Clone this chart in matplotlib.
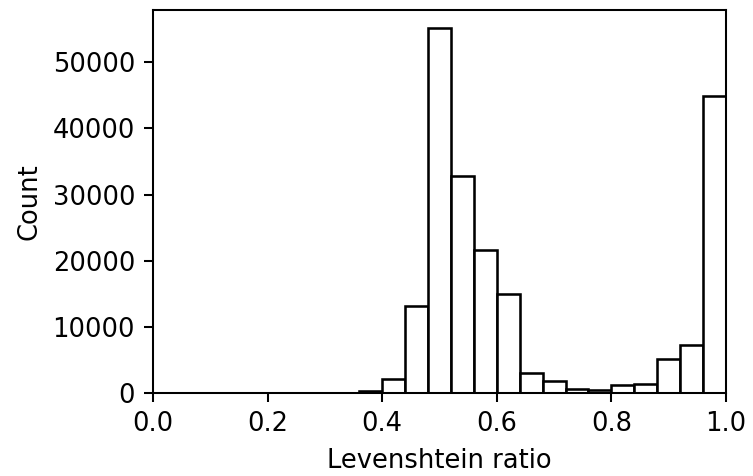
import numpy as np
import matplotlib
matplotlib.use('Agg')
import matplotlib.pyplot as plt

# Histogram of Levenshtein ratios: 25 bins of width 0.04 on [0, 1]
bin_edges = np.linspace(0.0, 1.0, 26)
counts = [0, 0, 0, 0, 0, 0, 0, 0, 0, 300,
          2100, 13200, 55100, 32800, 21700, 15000, 3000, 1900, 600, 450,
          1300, 1450, 5250, 7350, 44900]
x_ticks = [0.0, 0.2, 0.4, 0.6, 0.8, 1.0]
y_ticks = [0, 10000, 20000, 30000, 40000, 50000]

dpi = 185
fig = plt.figure(figsize=(753 / dpi, 476 / dpi), dpi=dpi)
ax = fig.add_axes([0.2032, 0.1737, 0.7609, 0.8053])

ax.hist(bin_edges[:-1], bins=bin_edges, weights=counts,
        color='white', edgecolor='black', linewidth=1.0)

ax.set_xlim(0.0, 1.0)
ax.set_xticks(x_ticks)
ax.set_yticks(y_ticks)
ax.set_xlabel('Levenshtein ratio')
ax.set_ylabel('Count')

fig.savefig('out.png', dpi=dpi, facecolor='white')
plt.close(fig)
